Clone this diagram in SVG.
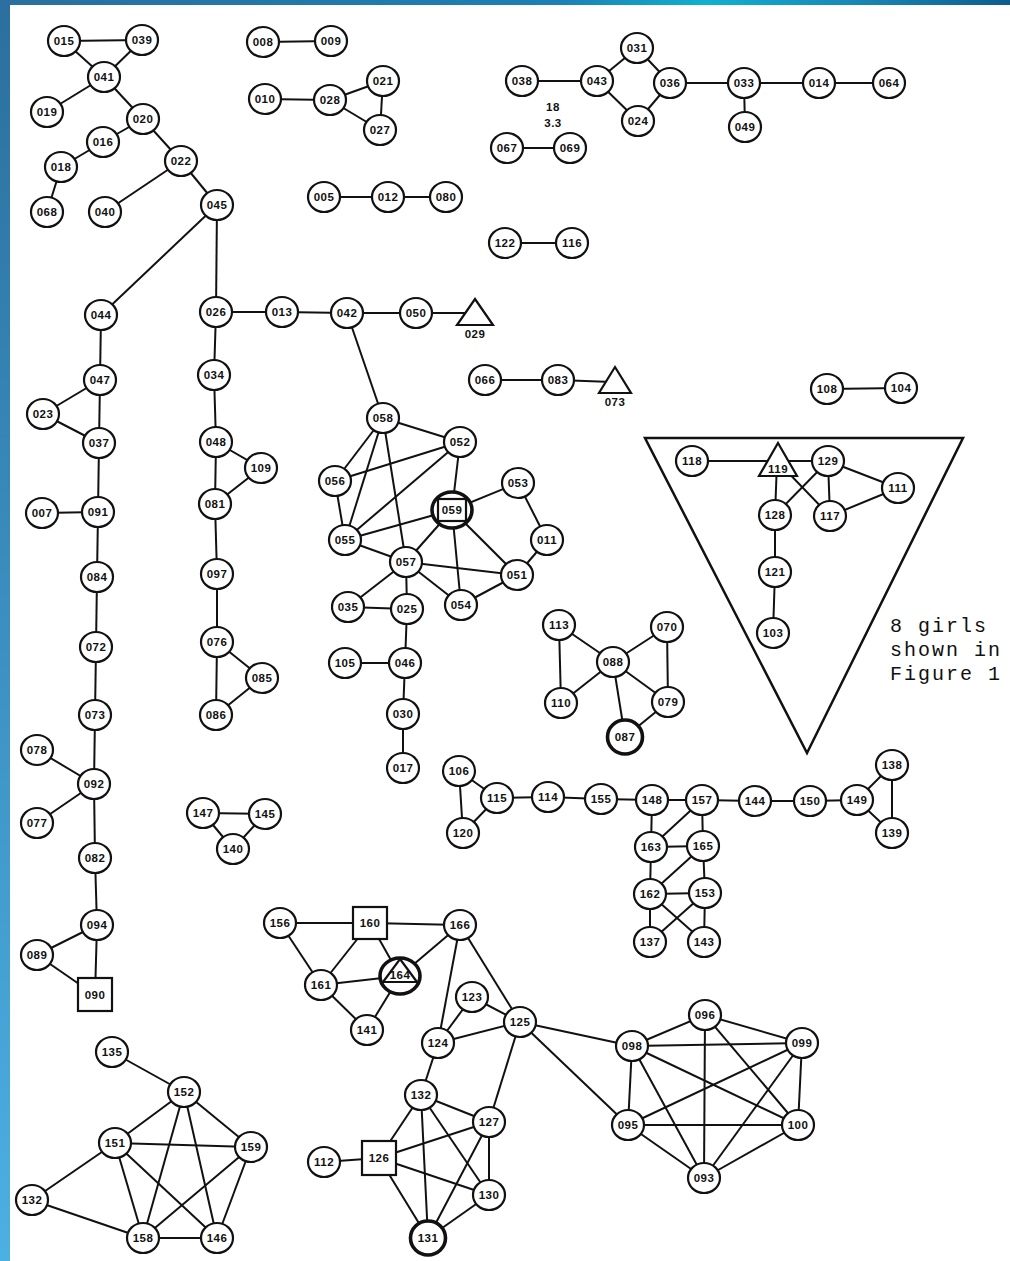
<svg xmlns="http://www.w3.org/2000/svg" width="1010" height="1261" viewBox="0 0 1010 1261">
<defs>
<linearGradient id="gl" x1="0" y1="0" x2="0" y2="1"><stop offset="0" stop-color="#2a6f9f"/><stop offset="1" stop-color="#4db0e2"/></linearGradient>
<linearGradient id="gt" x1="0" y1="0" x2="1" y2="0"><stop offset="0" stop-color="#2a6f9f"/><stop offset="0.55" stop-color="#1d7fb3"/><stop offset="0.7" stop-color="#10b0d0"/><stop offset="0.85" stop-color="#1a86b5"/><stop offset="1" stop-color="#0d5d8d"/></linearGradient>
<style>
.c line{stroke:#111;stroke-width:2;fill:none}
.n ellipse{fill:#fff;stroke:#111;stroke-width:2.2}
.n rect,.n polygon{fill:#fff;stroke:#111;stroke-width:2.2}
.n .k{stroke-width:3.6}
.n text,.lbl{font-family:"Liberation Sans",Arial,sans-serif;font-size:11.5px;font-weight:bold;text-anchor:middle;letter-spacing:0.5px;fill:#111}
.note{font-family:"Liberation Mono","Courier New",monospace;font-size:20px;letter-spacing:2px;fill:#111}
</style>
</defs>
<rect width="1010" height="1261" fill="#fff"/>
<rect x="0" y="0" width="1010" height="5" fill="url(#gt)"/>
<rect x="0" y="0" width="10" height="1261" fill="url(#gl)"/>
<polygon points="645,438 963,438 807,753" fill="none" stroke="#111" stroke-width="2.5"/>
<g class="c" id="connectors">
<line x1="64" y1="41" x2="142" y2="40"/><line x1="64" y1="41" x2="104" y2="77"/><line x1="142" y1="40" x2="104" y2="77"/>
<line x1="104" y1="77" x2="47" y2="112"/><line x1="104" y1="77" x2="143" y2="119"/><line x1="143" y1="119" x2="103" y2="142"/>
<line x1="103" y1="142" x2="61" y2="167"/><line x1="61" y1="167" x2="47" y2="212"/><line x1="143" y1="119" x2="181" y2="161"/>
<line x1="181" y1="161" x2="105" y2="212"/><line x1="181" y1="161" x2="217" y2="205"/><line x1="217" y1="205" x2="101" y2="315"/>
<line x1="217" y1="205" x2="216" y2="312"/><line x1="216" y1="312" x2="282" y2="312"/><line x1="282" y1="312" x2="347" y2="313"/>
<line x1="347" y1="313" x2="416" y2="313"/><line x1="416" y1="313" x2="472" y2="313"/>
<line x1="263" y1="42" x2="331" y2="41"/><line x1="265" y1="99" x2="330" y2="100"/><line x1="330" y1="100" x2="383" y2="81"/>
<line x1="330" y1="100" x2="380" y2="130"/><line x1="383" y1="81" x2="380" y2="130"/><line x1="324" y1="197" x2="388" y2="197"/>
<line x1="388" y1="197" x2="446" y2="197"/>
<line x1="522" y1="81" x2="597" y2="81"/><line x1="597" y1="81" x2="637" y2="48"/><line x1="597" y1="81" x2="638" y2="121"/>
<line x1="637" y1="48" x2="670" y2="83"/><line x1="638" y1="121" x2="670" y2="83"/><line x1="670" y1="83" x2="744" y2="83"/>
<line x1="744" y1="83" x2="819" y2="83"/><line x1="819" y1="83" x2="889" y2="83"/><line x1="744" y1="83" x2="745" y2="127"/>
<line x1="507" y1="148" x2="570" y2="148"/><line x1="505" y1="243" x2="572" y2="243"/>
<line x1="101" y1="315" x2="100" y2="380"/><line x1="100" y1="380" x2="43" y2="414"/><line x1="100" y1="380" x2="99" y2="443"/>
<line x1="43" y1="414" x2="99" y2="443"/><line x1="99" y1="443" x2="98" y2="512"/><line x1="42" y1="513" x2="98" y2="512"/>
<line x1="98" y1="512" x2="97" y2="577"/><line x1="97" y1="577" x2="96" y2="647"/><line x1="96" y1="647" x2="95" y2="715"/>
<line x1="95" y1="715" x2="94" y2="784"/><line x1="37" y1="750" x2="94" y2="784"/><line x1="37" y1="823" x2="94" y2="784"/>
<line x1="94" y1="784" x2="95" y2="858"/><line x1="95" y1="858" x2="97" y2="925"/><line x1="97" y1="925" x2="37" y2="955"/>
<line x1="97" y1="925" x2="95" y2="995"/><line x1="37" y1="955" x2="95" y2="995"/>
<line x1="216" y1="312" x2="214" y2="375"/><line x1="214" y1="375" x2="216" y2="442"/><line x1="216" y1="442" x2="261" y2="468"/>
<line x1="216" y1="442" x2="215" y2="504"/><line x1="261" y1="468" x2="215" y2="504"/><line x1="215" y1="504" x2="217" y2="574"/>
<line x1="217" y1="574" x2="217" y2="642"/><line x1="217" y1="642" x2="262" y2="678"/><line x1="217" y1="642" x2="216" y2="715"/>
<line x1="262" y1="678" x2="216" y2="715"/>
<line x1="347" y1="313" x2="383" y2="418"/><line x1="383" y1="418" x2="460" y2="442"/><line x1="383" y1="418" x2="335" y2="481"/>
<line x1="383" y1="418" x2="345" y2="540"/><line x1="383" y1="418" x2="406" y2="562"/><line x1="335" y1="481" x2="460" y2="442"/>
<line x1="460" y1="442" x2="345" y2="540"/><line x1="460" y1="442" x2="452" y2="510"/><line x1="335" y1="481" x2="345" y2="540"/>
<line x1="345" y1="540" x2="452" y2="510"/><line x1="345" y1="540" x2="406" y2="562"/><line x1="406" y1="562" x2="452" y2="510"/>
<line x1="452" y1="510" x2="518" y2="483"/><line x1="518" y1="483" x2="547" y2="540"/><line x1="547" y1="540" x2="517" y2="575"/>
<line x1="452" y1="510" x2="517" y2="575"/><line x1="452" y1="510" x2="461" y2="605"/><line x1="406" y1="562" x2="517" y2="575"/>
<line x1="406" y1="562" x2="461" y2="605"/><line x1="461" y1="605" x2="517" y2="575"/><line x1="406" y1="562" x2="348" y2="607"/>
<line x1="406" y1="562" x2="407" y2="609"/><line x1="348" y1="607" x2="407" y2="609"/><line x1="407" y1="609" x2="405" y2="663"/>
<line x1="345" y1="663" x2="405" y2="663"/><line x1="405" y1="663" x2="403" y2="714"/><line x1="403" y1="714" x2="403" y2="768"/>
<line x1="485" y1="380" x2="558" y2="380"/><line x1="558" y1="380" x2="612" y2="382"/>
<line x1="827" y1="389" x2="901" y2="388"/><line x1="692" y1="461" x2="778" y2="461"/><line x1="778" y1="461" x2="828" y2="461"/>
<line x1="777" y1="462" x2="775" y2="515"/><line x1="778" y1="462" x2="830" y2="516"/><line x1="828" y1="461" x2="775" y2="515"/>
<line x1="828" y1="461" x2="830" y2="516"/><line x1="828" y1="461" x2="898" y2="488"/><line x1="830" y1="516" x2="898" y2="488"/>
<line x1="775" y1="515" x2="775" y2="572"/><line x1="775" y1="572" x2="773" y2="633"/>
<line x1="559" y1="625" x2="613" y2="662"/><line x1="559" y1="625" x2="561" y2="703"/><line x1="561" y1="703" x2="613" y2="662"/>
<line x1="613" y1="662" x2="667" y2="627"/><line x1="667" y1="627" x2="668" y2="702"/><line x1="613" y1="662" x2="668" y2="702"/>
<line x1="613" y1="662" x2="625" y2="737"/><line x1="668" y1="702" x2="625" y2="737"/>
<line x1="459" y1="771" x2="497" y2="798"/><line x1="459" y1="771" x2="463" y2="833"/><line x1="497" y1="798" x2="463" y2="833"/>
<line x1="497" y1="798" x2="548" y2="797"/><line x1="548" y1="797" x2="601" y2="799"/><line x1="601" y1="799" x2="652" y2="800"/>
<line x1="652" y1="800" x2="702" y2="800"/><line x1="702" y1="800" x2="755" y2="801"/><line x1="755" y1="801" x2="810" y2="801"/>
<line x1="810" y1="801" x2="857" y2="800"/><line x1="857" y1="800" x2="892" y2="765"/><line x1="857" y1="800" x2="892" y2="833"/>
<line x1="892" y1="765" x2="892" y2="833"/>
<line x1="652" y1="800" x2="651" y2="847"/><line x1="702" y1="800" x2="651" y2="847"/><line x1="702" y1="800" x2="703" y2="846"/>
<line x1="651" y1="847" x2="703" y2="846"/><line x1="651" y1="847" x2="650" y2="894"/><line x1="703" y1="846" x2="650" y2="894"/>
<line x1="703" y1="846" x2="705" y2="893"/><line x1="650" y1="894" x2="705" y2="893"/><line x1="650" y1="894" x2="650" y2="942"/>
<line x1="650" y1="894" x2="704" y2="942"/><line x1="705" y1="893" x2="650" y2="942"/><line x1="705" y1="893" x2="704" y2="942"/>
<line x1="203" y1="813" x2="265" y2="814"/><line x1="203" y1="813" x2="233" y2="849"/><line x1="265" y1="814" x2="233" y2="849"/>
<line x1="280" y1="923" x2="370" y2="923"/><line x1="370" y1="923" x2="460" y2="925"/><line x1="280" y1="923" x2="321" y2="985"/>
<line x1="370" y1="923" x2="321" y2="985"/><line x1="370" y1="923" x2="400" y2="976"/><line x1="460" y1="925" x2="400" y2="976"/>
<line x1="321" y1="985" x2="400" y2="976"/><line x1="321" y1="985" x2="367" y2="1030"/><line x1="400" y1="976" x2="367" y2="1030"/>
<line x1="460" y1="925" x2="438" y2="1043"/><line x1="460" y1="925" x2="520" y2="1022"/><line x1="472" y1="997" x2="438" y2="1043"/>
<line x1="472" y1="997" x2="520" y2="1022"/><line x1="438" y1="1043" x2="520" y2="1022"/><line x1="438" y1="1043" x2="421" y2="1095"/>
<line x1="520" y1="1022" x2="489" y2="1122"/><line x1="520" y1="1022" x2="632" y2="1046"/><line x1="520" y1="1022" x2="628" y2="1125"/>
<line x1="421" y1="1095" x2="489" y2="1122"/><line x1="421" y1="1095" x2="379" y2="1158"/><line x1="421" y1="1095" x2="428" y2="1238"/>
<line x1="421" y1="1095" x2="489" y2="1195"/><line x1="489" y1="1122" x2="379" y2="1158"/><line x1="489" y1="1122" x2="428" y2="1238"/>
<line x1="489" y1="1122" x2="489" y2="1195"/><line x1="379" y1="1158" x2="489" y2="1195"/><line x1="379" y1="1158" x2="428" y2="1238"/>
<line x1="489" y1="1195" x2="428" y2="1238"/><line x1="324" y1="1162" x2="379" y2="1158"/>
<line x1="632" y1="1046" x2="705" y2="1015"/><line x1="632" y1="1046" x2="802" y2="1043"/><line x1="632" y1="1046" x2="798" y2="1125"/>
<line x1="632" y1="1046" x2="704" y2="1178"/><line x1="632" y1="1046" x2="628" y2="1125"/><line x1="705" y1="1015" x2="802" y2="1043"/>
<line x1="705" y1="1015" x2="798" y2="1125"/><line x1="705" y1="1015" x2="704" y2="1178"/><line x1="802" y1="1043" x2="798" y2="1125"/>
<line x1="802" y1="1043" x2="704" y2="1178"/><line x1="802" y1="1043" x2="628" y2="1125"/><line x1="798" y1="1125" x2="628" y2="1125"/>
<line x1="798" y1="1125" x2="704" y2="1178"/><line x1="628" y1="1125" x2="704" y2="1178"/>
<line x1="112" y1="1052" x2="184" y2="1092"/><line x1="184" y1="1092" x2="115" y2="1143"/><line x1="184" y1="1092" x2="251" y2="1147"/>
<line x1="184" y1="1092" x2="143" y2="1238"/><line x1="184" y1="1092" x2="217" y2="1238"/><line x1="115" y1="1143" x2="251" y2="1147"/>
<line x1="115" y1="1143" x2="32" y2="1200"/><line x1="115" y1="1143" x2="143" y2="1238"/><line x1="115" y1="1143" x2="217" y2="1238"/>
<line x1="251" y1="1147" x2="143" y2="1238"/><line x1="251" y1="1147" x2="217" y2="1238"/><line x1="32" y1="1200" x2="143" y2="1238"/>
<line x1="143" y1="1238" x2="217" y2="1238"/>
</g>
<g class="n">
<g id="n015"><ellipse cx="64" cy="41" rx="16" ry="15"/><text x="64" y="45">015</text></g>
<g id="n039"><ellipse cx="142" cy="40" rx="16" ry="15"/><text x="142" y="44">039</text></g>
<g id="n041"><ellipse cx="104" cy="77" rx="16" ry="15"/><text x="104" y="81">041</text></g>
<g id="n019"><ellipse cx="47" cy="112" rx="16" ry="15"/><text x="47" y="116">019</text></g>
<g id="n020"><ellipse cx="143" cy="119" rx="16" ry="15"/><text x="143" y="123">020</text></g>
<g id="n016"><ellipse cx="103" cy="142" rx="16" ry="15"/><text x="103" y="146">016</text></g>
<g id="n018"><ellipse cx="61" cy="167" rx="16" ry="15"/><text x="61" y="171">018</text></g>
<g id="n068"><ellipse cx="47" cy="212" rx="16" ry="15"/><text x="47" y="216">068</text></g>
<g id="n040"><ellipse cx="105" cy="212" rx="16" ry="15"/><text x="105" y="216">040</text></g>
<g id="n022"><ellipse cx="181" cy="161" rx="16" ry="15"/><text x="181" y="165">022</text></g>
<g id="n045"><ellipse cx="217" cy="205" rx="16" ry="15"/><text x="217" y="209">045</text></g>
<g id="n044"><ellipse cx="101" cy="315" rx="16" ry="15"/><text x="101" y="319">044</text></g>
<g id="n026"><ellipse cx="216" cy="312" rx="16" ry="15"/><text x="216" y="316">026</text></g>
<g id="n013"><ellipse cx="282" cy="312" rx="16" ry="15"/><text x="282" y="316">013</text></g>
<g id="n042"><ellipse cx="347" cy="313" rx="16" ry="15"/><text x="347" y="317">042</text></g>
<g id="n050"><ellipse cx="416" cy="313" rx="16" ry="15"/><text x="416" y="317">050</text></g>
<g id="n029"><polygon points="475,299 493,325 457,325"/><text x="475" y="338">029</text></g>
<g id="n008"><ellipse cx="263" cy="42" rx="16" ry="15"/><text x="263" y="46">008</text></g>
<g id="n009"><ellipse cx="331" cy="41" rx="16" ry="15"/><text x="331" y="45">009</text></g>
<g id="n010"><ellipse cx="265" cy="99" rx="16" ry="15"/><text x="265" y="103">010</text></g>
<g id="n028"><ellipse cx="330" cy="100" rx="16" ry="15"/><text x="330" y="104">028</text></g>
<g id="n021"><ellipse cx="383" cy="81" rx="16" ry="15"/><text x="383" y="85">021</text></g>
<g id="n027"><ellipse cx="380" cy="130" rx="16" ry="15"/><text x="380" y="134">027</text></g>
<g id="n005"><ellipse cx="324" cy="197" rx="16" ry="15"/><text x="324" y="201">005</text></g>
<g id="n012"><ellipse cx="388" cy="197" rx="16" ry="15"/><text x="388" y="201">012</text></g>
<g id="n080"><ellipse cx="446" cy="197" rx="16" ry="15"/><text x="446" y="201">080</text></g>
<g id="n038"><ellipse cx="522" cy="81" rx="16" ry="15"/><text x="522" y="85">038</text></g>
<g id="n043"><ellipse cx="597" cy="81" rx="16" ry="15"/><text x="597" y="85">043</text></g>
<g id="n031"><ellipse cx="637" cy="48" rx="16" ry="15"/><text x="637" y="52">031</text></g>
<g id="n024"><ellipse cx="638" cy="121" rx="16" ry="15"/><text x="638" y="125">024</text></g>
<g id="n036"><ellipse cx="670" cy="83" rx="16" ry="15"/><text x="670" y="87">036</text></g>
<g id="n033"><ellipse cx="744" cy="83" rx="16" ry="15"/><text x="744" y="87">033</text></g>
<g id="n014"><ellipse cx="819" cy="83" rx="16" ry="15"/><text x="819" y="87">014</text></g>
<g id="n064"><ellipse cx="889" cy="83" rx="16" ry="15"/><text x="889" y="87">064</text></g>
<g id="n049"><ellipse cx="745" cy="127" rx="16" ry="15"/><text x="745" y="131">049</text></g>
<g id="n067"><ellipse cx="507" cy="148" rx="16" ry="15"/><text x="507" y="152">067</text></g>
<g id="n069"><ellipse cx="570" cy="148" rx="16" ry="15"/><text x="570" y="152">069</text></g>
<g id="n122"><ellipse cx="505" cy="243" rx="16" ry="15"/><text x="505" y="247">122</text></g>
<g id="n116"><ellipse cx="572" cy="243" rx="16" ry="15"/><text x="572" y="247">116</text></g>
<g id="n047"><ellipse cx="100" cy="380" rx="16" ry="15"/><text x="100" y="384">047</text></g>
<g id="n023"><ellipse cx="43" cy="414" rx="16" ry="15"/><text x="43" y="418">023</text></g>
<g id="n037"><ellipse cx="99" cy="443" rx="16" ry="15"/><text x="99" y="447">037</text></g>
<g id="n091"><ellipse cx="98" cy="512" rx="16" ry="15"/><text x="98" y="516">091</text></g>
<g id="n007"><ellipse cx="42" cy="513" rx="16" ry="15"/><text x="42" y="517">007</text></g>
<g id="n084"><ellipse cx="97" cy="577" rx="16" ry="15"/><text x="97" y="581">084</text></g>
<g id="n072"><ellipse cx="96" cy="647" rx="16" ry="15"/><text x="96" y="651">072</text></g>
<g id="n073"><ellipse cx="95" cy="715" rx="16" ry="15"/><text x="95" y="719">073</text></g>
<g id="n078"><ellipse cx="37" cy="750" rx="16" ry="15"/><text x="37" y="754">078</text></g>
<g id="n092"><ellipse cx="94" cy="784" rx="16" ry="15"/><text x="94" y="788">092</text></g>
<g id="n077"><ellipse cx="37" cy="823" rx="16" ry="15"/><text x="37" y="827">077</text></g>
<g id="n082"><ellipse cx="95" cy="858" rx="16" ry="15"/><text x="95" y="862">082</text></g>
<g id="n094"><ellipse cx="97" cy="925" rx="16" ry="15"/><text x="97" y="929">094</text></g>
<g id="n089"><ellipse cx="37" cy="955" rx="16" ry="15"/><text x="37" y="959">089</text></g>
<g id="n090"><rect x="78" y="978" width="34" height="33"/><text x="95" y="999">090</text></g>
<g id="n034"><ellipse cx="214" cy="375" rx="16" ry="15"/><text x="214" y="379">034</text></g>
<g id="n048"><ellipse cx="216" cy="442" rx="16" ry="15"/><text x="216" y="446">048</text></g>
<g id="n109"><ellipse cx="261" cy="468" rx="16" ry="15"/><text x="261" y="472">109</text></g>
<g id="n081"><ellipse cx="215" cy="504" rx="16" ry="15"/><text x="215" y="508">081</text></g>
<g id="n097"><ellipse cx="217" cy="574" rx="16" ry="15"/><text x="217" y="578">097</text></g>
<g id="n076"><ellipse cx="217" cy="642" rx="16" ry="15"/><text x="217" y="646">076</text></g>
<g id="n085"><ellipse cx="262" cy="678" rx="16" ry="15"/><text x="262" y="682">085</text></g>
<g id="n086"><ellipse cx="216" cy="715" rx="16" ry="15"/><text x="216" y="719">086</text></g>
<g id="n058"><ellipse cx="383" cy="418" rx="16" ry="15"/><text x="383" y="422">058</text></g>
<g id="n052"><ellipse cx="460" cy="442" rx="16" ry="15"/><text x="460" y="446">052</text></g>
<g id="n056"><ellipse cx="335" cy="481" rx="16" ry="15"/><text x="335" y="485">056</text></g>
<g id="n059"><ellipse class="k" cx="452" cy="510" rx="20" ry="18"/><rect x="438" y="499" width="28" height="22"/><text x="452" y="514">059</text></g>
<g id="n053"><ellipse cx="518" cy="483" rx="16" ry="15"/><text x="518" y="487">053</text></g>
<g id="n011"><ellipse cx="547" cy="540" rx="16" ry="15"/><text x="547" y="544">011</text></g>
<g id="n055"><ellipse cx="345" cy="540" rx="16" ry="15"/><text x="345" y="544">055</text></g>
<g id="n057"><ellipse cx="406" cy="562" rx="16" ry="15"/><text x="406" y="566">057</text></g>
<g id="n051"><ellipse cx="517" cy="575" rx="16" ry="15"/><text x="517" y="579">051</text></g>
<g id="n035"><ellipse cx="348" cy="607" rx="16" ry="15"/><text x="348" y="611">035</text></g>
<g id="n025"><ellipse cx="407" cy="609" rx="16" ry="15"/><text x="407" y="613">025</text></g>
<g id="n054"><ellipse cx="461" cy="605" rx="16" ry="15"/><text x="461" y="609">054</text></g>
<g id="n105"><ellipse cx="345" cy="663" rx="16" ry="15"/><text x="345" y="667">105</text></g>
<g id="n046"><ellipse cx="405" cy="663" rx="16" ry="15"/><text x="405" y="667">046</text></g>
<g id="n030"><ellipse cx="403" cy="714" rx="16" ry="15"/><text x="403" y="718">030</text></g>
<g id="n017"><ellipse cx="403" cy="768" rx="16" ry="15"/><text x="403" y="772">017</text></g>
<g id="n066"><ellipse cx="485" cy="380" rx="16" ry="15"/><text x="485" y="384">066</text></g>
<g id="n083"><ellipse cx="558" cy="380" rx="16" ry="15"/><text x="558" y="384">083</text></g>
<g id="n073t"><polygon points="615,367 631,393 599,393"/><text x="615" y="406">073</text></g>
<g id="n108"><ellipse cx="827" cy="389" rx="16" ry="15"/><text x="827" y="393">108</text></g>
<g id="n104"><ellipse cx="901" cy="388" rx="16" ry="15"/><text x="901" y="392">104</text></g>
<g id="n118"><ellipse cx="692" cy="461" rx="16" ry="15"/><text x="692" y="465">118</text></g>
<g id="n119"><polygon points="778,443 797,476 759,476"/><text x="778" y="473">119</text></g>
<g id="n129"><ellipse cx="828" cy="461" rx="16" ry="15"/><text x="828" y="465">129</text></g>
<g id="n111"><ellipse cx="898" cy="488" rx="16" ry="15"/><text x="898" y="492">111</text></g>
<g id="n128"><ellipse cx="775" cy="515" rx="16" ry="15"/><text x="775" y="519">128</text></g>
<g id="n117"><ellipse cx="830" cy="516" rx="16" ry="15"/><text x="830" y="520">117</text></g>
<g id="n121"><ellipse cx="775" cy="572" rx="16" ry="15"/><text x="775" y="576">121</text></g>
<g id="n103"><ellipse cx="773" cy="633" rx="16" ry="15"/><text x="773" y="637">103</text></g>
<g id="n113"><ellipse cx="559" cy="625" rx="16" ry="15"/><text x="559" y="629">113</text></g>
<g id="n070"><ellipse cx="667" cy="627" rx="16" ry="15"/><text x="667" y="631">070</text></g>
<g id="n088"><ellipse cx="613" cy="662" rx="16" ry="15"/><text x="613" y="666">088</text></g>
<g id="n110"><ellipse cx="561" cy="703" rx="16" ry="15"/><text x="561" y="707">110</text></g>
<g id="n079"><ellipse cx="668" cy="702" rx="16" ry="15"/><text x="668" y="706">079</text></g>
<g id="n087"><ellipse class="k" cx="625" cy="737" rx="17.5" ry="17"/><text x="625" y="741">087</text></g>
<g id="n106"><ellipse cx="459" cy="771" rx="16" ry="15"/><text x="459" y="775">106</text></g>
<g id="n115"><ellipse cx="497" cy="798" rx="16" ry="15"/><text x="497" y="802">115</text></g>
<g id="n120"><ellipse cx="463" cy="833" rx="16" ry="15"/><text x="463" y="837">120</text></g>
<g id="n114"><ellipse cx="548" cy="797" rx="16" ry="15"/><text x="548" y="801">114</text></g>
<g id="n155"><ellipse cx="601" cy="799" rx="16" ry="15"/><text x="601" y="803">155</text></g>
<g id="n148"><ellipse cx="652" cy="800" rx="16" ry="15"/><text x="652" y="804">148</text></g>
<g id="n157"><ellipse cx="702" cy="800" rx="16" ry="15"/><text x="702" y="804">157</text></g>
<g id="n144"><ellipse cx="755" cy="801" rx="16" ry="15"/><text x="755" y="805">144</text></g>
<g id="n150"><ellipse cx="810" cy="801" rx="16" ry="15"/><text x="810" y="805">150</text></g>
<g id="n149"><ellipse cx="857" cy="800" rx="16" ry="15"/><text x="857" y="804">149</text></g>
<g id="n138"><ellipse cx="892" cy="765" rx="16" ry="15"/><text x="892" y="769">138</text></g>
<g id="n139"><ellipse cx="892" cy="833" rx="16" ry="15"/><text x="892" y="837">139</text></g>
<g id="n163"><ellipse cx="651" cy="847" rx="16" ry="15"/><text x="651" y="851">163</text></g>
<g id="n165"><ellipse cx="703" cy="846" rx="16" ry="15"/><text x="703" y="850">165</text></g>
<g id="n162"><ellipse cx="650" cy="894" rx="16" ry="15"/><text x="650" y="898">162</text></g>
<g id="n153"><ellipse cx="705" cy="893" rx="16" ry="15"/><text x="705" y="897">153</text></g>
<g id="n137"><ellipse cx="650" cy="942" rx="16" ry="15"/><text x="650" y="946">137</text></g>
<g id="n143"><ellipse cx="704" cy="942" rx="16" ry="15"/><text x="704" y="946">143</text></g>
<g id="n147"><ellipse cx="203" cy="813" rx="16" ry="15"/><text x="203" y="817">147</text></g>
<g id="n145"><ellipse cx="265" cy="814" rx="16" ry="15"/><text x="265" y="818">145</text></g>
<g id="n140"><ellipse cx="233" cy="849" rx="16" ry="15"/><text x="233" y="853">140</text></g>
<g id="n156"><ellipse cx="280" cy="923" rx="16" ry="15"/><text x="280" y="927">156</text></g>
<g id="n160"><rect x="353" y="907" width="34" height="32"/><text x="370" y="927">160</text></g>
<g id="n166"><ellipse cx="460" cy="925" rx="16" ry="15"/><text x="460" y="929">166</text></g>
<g id="n161"><ellipse cx="321" cy="985" rx="16" ry="15"/><text x="321" y="989">161</text></g>
<g id="n164"><ellipse class="k" cx="400" cy="976" rx="20" ry="18"/><polygon points="400,959 417,982 383,982"/><text x="400" y="979">164</text></g>
<g id="n141"><ellipse cx="367" cy="1030" rx="16" ry="15"/><text x="367" y="1034">141</text></g>
<g id="n123"><ellipse cx="472" cy="997" rx="16" ry="15"/><text x="472" y="1001">123</text></g>
<g id="n125"><ellipse cx="520" cy="1022" rx="16" ry="15"/><text x="520" y="1026">125</text></g>
<g id="n124"><ellipse cx="438" cy="1043" rx="16" ry="15"/><text x="438" y="1047">124</text></g>
<g id="n132b"><ellipse cx="421" cy="1095" rx="16" ry="15"/><text x="421" y="1099">132</text></g>
<g id="n127"><ellipse cx="489" cy="1122" rx="16" ry="15"/><text x="489" y="1126">127</text></g>
<g id="n126"><rect x="362" y="1141" width="34" height="34"/><text x="379" y="1162">126</text></g>
<g id="n112"><ellipse cx="324" cy="1162" rx="16" ry="15"/><text x="324" y="1166">112</text></g>
<g id="n130"><ellipse cx="489" cy="1195" rx="16" ry="15"/><text x="489" y="1199">130</text></g>
<g id="n131"><ellipse class="k" cx="428" cy="1238" rx="17.5" ry="17"/><text x="428" y="1242">131</text></g>
<g id="n098"><ellipse cx="632" cy="1046" rx="16" ry="15"/><text x="632" y="1050">098</text></g>
<g id="n096"><ellipse cx="705" cy="1015" rx="16" ry="15"/><text x="705" y="1019">096</text></g>
<g id="n099"><ellipse cx="802" cy="1043" rx="16" ry="15"/><text x="802" y="1047">099</text></g>
<g id="n100"><ellipse cx="798" cy="1125" rx="16" ry="15"/><text x="798" y="1129">100</text></g>
<g id="n093"><ellipse cx="704" cy="1178" rx="16" ry="15"/><text x="704" y="1182">093</text></g>
<g id="n095"><ellipse cx="628" cy="1125" rx="16" ry="15"/><text x="628" y="1129">095</text></g>
<g id="n135"><ellipse cx="112" cy="1052" rx="16" ry="15"/><text x="112" y="1056">135</text></g>
<g id="n152"><ellipse cx="184" cy="1092" rx="16" ry="15"/><text x="184" y="1096">152</text></g>
<g id="n151"><ellipse cx="115" cy="1143" rx="16" ry="15"/><text x="115" y="1147">151</text></g>
<g id="n159"><ellipse cx="251" cy="1147" rx="16" ry="15"/><text x="251" y="1151">159</text></g>
<g id="n132"><ellipse cx="32" cy="1200" rx="16" ry="15"/><text x="32" y="1204">132</text></g>
<g id="n158"><ellipse cx="143" cy="1238" rx="16" ry="15"/><text x="143" y="1242">158</text></g>
<g id="n146"><ellipse cx="217" cy="1238" rx="16" ry="15"/><text x="217" y="1242">146</text></g>
</g>
<text class="lbl" x="553" y="111">18</text>
<text class="lbl" x="553" y="127">3.3</text>
<text class="note" x="890" y="632">8 girls</text>
<text class="note" x="890" y="656">shown in</text>
<text class="note" x="890" y="680">Figure 1</text>
</svg>
